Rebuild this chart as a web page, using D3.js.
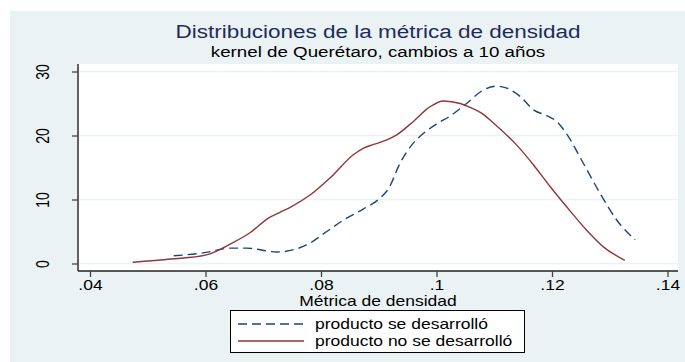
<!DOCTYPE html>
<html>
<head>
<meta charset="utf-8">
<script src="https://cdn.jsdelivr.net/npm/d3@7"></script>
<style>
  html, body { margin: 0; padding: 0; background: #ffffff; }
  svg { display: block; font-family: "Liberation Sans", Arial, Helvetica, sans-serif; }
</style>
</head>
<body>
<svg id="chart" width="685" height="362"></svg>
<script>
// Kernel density estimates of the density metric (Querétaro, 10-year changes)
const xTicks = [0.04, 0.06, 0.08, 0.10, 0.12, 0.14];
const xTickLabels = [".04", ".06", ".08", ".1", ".12", ".14"];
const yTicks = [0, 10, 20, 30];

const seriesNames = ["producto se desarrolló", "producto no se desarrolló"];

// producto se desarrolló (dashed)
const devX = [0.0545, 0.0599, 0.0642, 0.0671, 0.0723, 0.0758, 0.0775, 0.0810, 0.0839, 0.0873,
              0.0902, 0.0917, 0.0937, 0.0957, 0.0977, 0.1000, 0.1023, 0.1052, 0.1081, 0.1104,
              0.1122, 0.1145, 0.1168, 0.1191, 0.1208, 0.1225, 0.1254, 0.1283, 0.1312, 0.1344];
const devY = [1.2, 1.7, 2.4, 2.4, 1.8, 2.3, 2.9, 5.0, 6.8, 8.5,
              10.2, 11.7, 15.7, 18.5, 20.3, 21.8, 23.0, 25.0, 27.1, 27.7,
              27.4, 26.1, 24.0, 23.1, 22.2, 20.3, 15.7, 11.0, 6.8, 3.7];

// producto no se desarrolló (solid)
const noDevX = [0.0474, 0.0540, 0.0600, 0.0642, 0.0677, 0.0709, 0.0729, 0.0749, 0.0781, 0.0816,
                0.0856, 0.0873, 0.0891, 0.0914, 0.0931, 0.0960, 0.0989, 0.1012, 0.1041, 0.1058,
                0.1078, 0.1098, 0.1139, 0.1168, 0.1197, 0.1225, 0.1260, 0.1289, 0.1326];
const noDevY = [0.2, 0.7, 1.3, 3.0, 4.8, 7.1, 8.0, 8.9, 10.7, 13.4,
                17.0, 18.0, 18.6, 19.3, 20.1, 22.2, 24.5, 25.4, 25.0, 24.4,
                23.5, 22.0, 18.5, 15.4, 12.0, 8.9, 5.2, 2.6, 0.5];

const colors = ["#1a476f", "#90353b"];
const bg = "#eaf2f3";
const stretch = 1.25; // glyphs are drawn wide

const svg = d3.select("#chart");

// graph region
svg.append("rect").attr("x", 10).attr("y", 11).attr("width", 675).attr("height", 351).attr("fill", bg);

// plot region
const plot = { left: 78, right: 678, top: 64, bottom: 271 };
svg.append("rect")
  .attr("x", plot.left).attr("y", plot.top)
  .attr("width", plot.right - plot.left).attr("height", plot.bottom - plot.top)
  .attr("fill", "#ffffff");

const x = d3.scaleLinear().domain([0.04, 0.14]).range([90, 667.5]);
const y = d3.scaleLinear().domain([0, 30]).range([263.5, 71.5]);

// wide text helper
function wideText(parent, px, py, size, str, anchor, fill) {
  return parent.append("text")
    .attr("transform", `translate(${px},${py}) scale(${stretch},1)`)
    .attr("text-anchor", anchor).attr("font-size", size).attr("fill", fill)
    .text(str);
}

// gridlines
svg.append("g").selectAll("line").data(yTicks).join("line")
  .attr("x1", plot.left).attr("x2", plot.right)
  .attr("y1", d => y(d)).attr("y2", d => y(d))
  .attr("stroke", bg).attr("stroke-width", 1.5);

// y axis
const yAxis = svg.append("g").attr("transform", `translate(${plot.left},0)`)
  .call(d3.axisLeft(y).tickValues(yTicks).tickSize(6).tickFormat(d3.format("d")));
yAxis.select(".domain").attr("d", `M0,${plot.top}V${plot.bottom}`).attr("stroke", "#222").attr("stroke-width", 1.4);
yAxis.selectAll(".tick line").attr("stroke", "#444").attr("stroke-width", 1.3);
yAxis.selectAll(".tick text")
  .attr("font-size", 14).attr("fill", "#000")
  .attr("text-anchor", "middle")
  .attr("x", null).attr("dy", null).attr("y", 0)
  .attr("transform", `translate(-35,0) rotate(-90) scale(1,${stretch})`)
  .attr("dominant-baseline", "central");

// x axis
const xAxis = svg.append("g").attr("transform", `translate(0,${plot.bottom})`)
  .call(d3.axisBottom(x).tickValues(xTicks).tickSize(6).tickFormat((d, i) => xTickLabels[i]));
xAxis.select(".domain").attr("d", `M${plot.left},0H${plot.right}`).attr("stroke", "#222").attr("stroke-width", 1.4);
xAxis.selectAll(".tick line").attr("stroke", "#444").attr("stroke-width", 1.3);
xAxis.selectAll(".tick text")
  .attr("font-size", 14).attr("fill", "#000")
  .attr("dy", null).attr("y", 19.5)
  .attr("transform", `scale(${stretch},1)`);

// axis title
wideText(svg, 378, 305.5, 14, "Métrica de densidad", "middle", "#000");

// titles
wideText(svg, 378, 38.3, 18, "Distribuciones de la métrica de densidad", "middle", "#1e2c5c");
wideText(svg, 378, 56.7, 15, "kernel de Querétaro, cambios a 10 años", "middle", "#000");

// density curves
const line = d3.line().x(d => x(d[0])).y(d => y(d[1])).curve(d3.curveMonotoneX);
const devData = d3.zip(devX, devY);
const noDevData = d3.zip(noDevX, noDevY);

svg.append("path").datum(devData).attr("d", line)
  .attr("fill", "none").attr("stroke", colors[0]).attr("stroke-width", 1.4)
  .attr("stroke-dasharray", "9,5");
svg.append("path").datum(noDevData).attr("d", line)
  .attr("fill", "none").attr("stroke", colors[1]).attr("stroke-width", 1.4);

// legend
const legend = svg.append("g");
legend.append("rect").attr("x", 230.5).attr("y", 310.5).attr("width", 294).attr("height", 42)
  .attr("fill", "#ffffff").attr("stroke", "#000").attr("stroke-width", 1);
const legendRows = [
  { name: seriesNames[0], color: colors[0], dash: "9,5", cy: 324 },
  { name: seriesNames[1], color: colors[1], dash: null, cy: 341 }
];
legendRows.forEach(r => {
  legend.append("line").attr("x1", 238).attr("x2", 304).attr("y1", r.cy).attr("y2", r.cy)
    .attr("stroke", r.color).attr("stroke-width", 1.4).attr("stroke-dasharray", r.dash);
  wideText(legend, 315, r.cy + 5, 14, r.name, "start", "#000");
});
</script>
</body>
</html>
